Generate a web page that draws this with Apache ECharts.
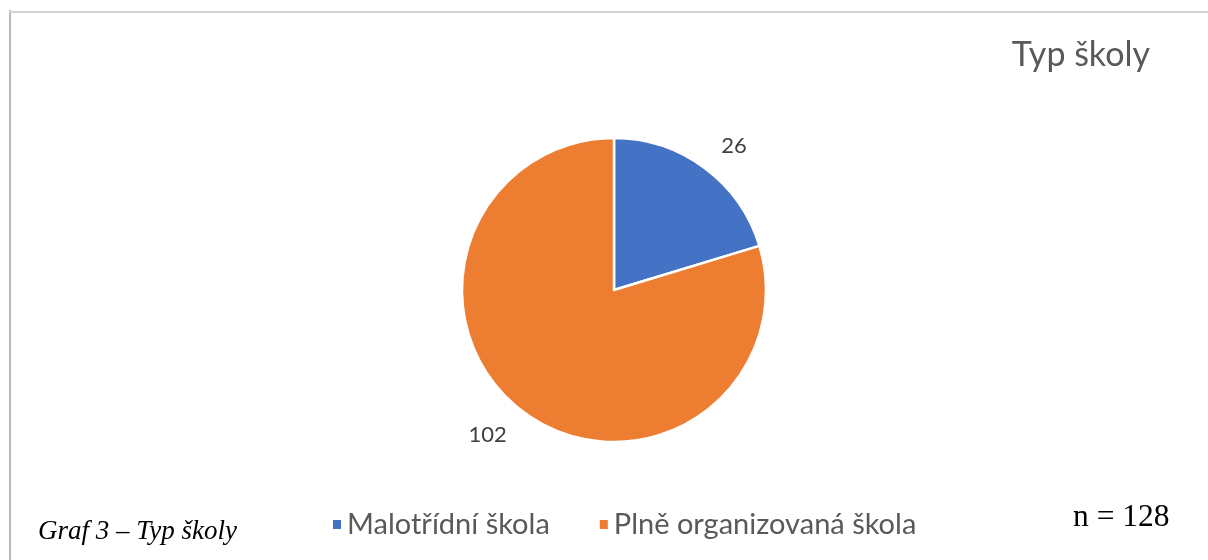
<!DOCTYPE html>
<html>
<head>
<meta charset="utf-8">
<script src="https://cdn.jsdelivr.net/npm/echarts@6/dist/echarts.min.js"></script>
<style>
  html, body { margin: 0; padding: 0; background: #fff; overflow: hidden; }
  #main { width: 1208px; height: 560px; }
</style>
</head>
<body>
<div id="main"></div>
<script>
// kategorie a hodnoty
let categories = ["Malotřídní škola", "Plně organizovaná škola"];
let values = [26, 102];
let colors = ["#4472C4", "#ED7D31"];
let chartTitle = "Typ školy";
let caption = "Graf 3 – Typ školy";
let totalText = "n = 128";

let chartDom = document.getElementById("main");
let myChart = echarts.init(chartDom);

let pieData = [];
categories.forEach((name, i) => {
  pieData.push({
    name: name,
    value: values[i],
    itemStyle: { color: colors[i] },
  });
});

let option = {
  animation: false,
  // rámeček grafu (vlevo a nahoře)
  graphic: [
    {
      type: "line",
      shape: { x1: 10, y1: 10, x2: 10, y2: 560 },
      style: { stroke: "#b8b8b8", lineWidth: 2 },
    },
    {
      type: "line",
      shape: { x1: 9, y1: 12, x2: 1208, y2: 12 },
      style: { stroke: "#d4d4d4", lineWidth: 2 },
    },
  ],
  title: [
    {
      text: chartTitle,
      right: 58,
      top: 38,
      padding: 0,
      textStyle: {
        color: "#595959",
        fontFamily: "Lato",
        fontWeight: "normal",
        fontSize: 34,
      },
    },
    {
      text: caption,
      left: 38,
      top: 518,
      padding: 0,
      textStyle: {
        color: "#000",
        fontFamily: "Liberation Serif",
        fontStyle: "italic",
        fontWeight: "normal",
        fontSize: 27,
      },
    },
    {
      text: totalText,
      left: 1073,
      top: 502,
      padding: 0,
      textStyle: {
        color: "#000",
        fontFamily: "Liberation Serif",
        fontWeight: "normal",
        fontSize: 31.5,
      },
    },
  ],
  legend: {
    left: 331,
    top: 510,
    padding: 0,
    icon: "rect",
    itemWidth: 10,
    itemHeight: 11,
    itemGap: 48,
    textStyle: {
      color: "#595959",
      fontFamily: "Lato",
      fontSize: 29,
    },
    data: categories,
  },
  series: [
    {
      type: "pie",
      center: [614, 290],
      radius: 152,
      startAngle: 90,
      clockwise: true,
      itemStyle: {
        borderColor: "#fff",
        borderWidth: 2.5,
      },
      label: {
        show: true,
        position: "outside",
        formatter: "{c}",
        color: "#404040",
        fontFamily: "Lato",
        fontSize: 22,
        distanceToLabelLine: 0,
      },
      labelLine: {
        show: false,
        length: 28,
        length2: 0,
      },
      emphasis: { disabled: true },
      data: pieData,
    },
  ],
};

myChart.setOption(option);
</script>
</body>
</html>
